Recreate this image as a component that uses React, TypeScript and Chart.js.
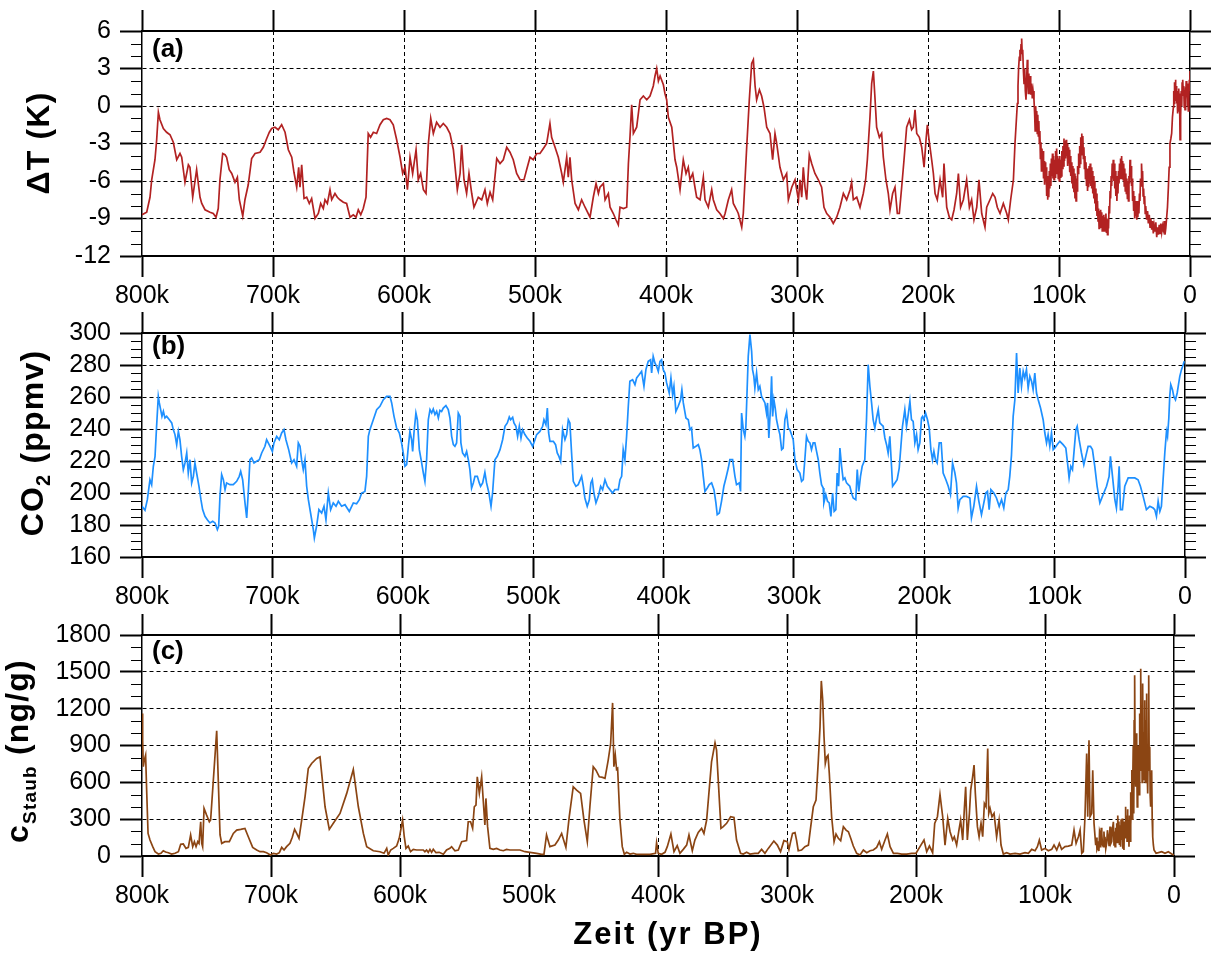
import React, { useEffect, useRef } from 'react';
import { Chart, registerables } from 'chart.js';

Chart.register(...registerables);

// ---------- axis ticks ----------
const ageTicks = [800, 700, 600, 500, 400, 300, 200, 100, 0];
const tempTicks = [-12, -9, -6, -3, 0, 3, 6];
const co2Ticks = [160, 180, 200, 220, 240, 260, 280, 300];
const dustTicks = [0, 300, 600, 900, 1200, 1500, 1800];

// ---------- (a) temperature anomaly: [age kyr BP, ΔT K] ----------
const tempRecord: [number, number][] = [
  [800, -8.7], [796.4, -8.5], [793.9, -7.3], [792.6, -5.9], [790.1, -4.3], [788.8, -2.7], [787.5, -0.5], [786.3, -1.1], [783.7, -1.8], [781.2, -2.1],
  [778.6, -2.3], [776.1, -2.9], [773.5, -4.3], [771, -3.8], [769.7, -4.1], [767.2, -6.1], [764.6, -4.7], [763.4, -4.9], [761.3, -7.3], [758.3, -5.1],
  [755.7, -7.3], [754.4, -7.8], [751.9, -8.3], [748.1, -8.5], [745.6, -8.6], [743.5, -8.9], [741.8, -8.2], [740.5, -5.9], [738.4, -3.8], [736.6, -3.9],
  [735.4, -4.1], [733.4, -5.1], [731.5, -5.4], [729, -6.1], [727.2, -5.7], [725.7, -7.5], [723.1, -8.8], [721.4, -7.5], [718.9, -6.3], [716.3, -4.2],
  [713.7, -3.8], [709.9, -3.7], [707.4, -3.3], [704.8, -2.6], [702.8, -2.1], [701, -1.8], [698.5, -1.7], [696, -1.9], [693.4, -1.5], [690.8, -2.1],
  [688.3, -3.5], [685.7, -4.1], [684, -5.3], [681.9, -6.5], [680.4, -4.9], [679.4, -6.5], [678.1, -4.7], [676.3, -7.4], [674.3, -7.3], [672.3, -7.8],
  [670.5, -7.4], [667.9, -9.0], [665.4, -8.6], [663.6, -7.8], [661.6, -8.2], [660.3, -7.5], [658.5, -7.8], [656.5, -6.7], [655.2, -7.5], [652.7, -7.0],
  [650.9, -7.3], [648.9, -7.5], [646.3, -7.7], [643.8, -7.8], [641.2, -8.9], [638.7, -8.7], [636.6, -8.9], [634.9, -8.3], [633, -8.7], [631.1, -8.2],
  [629, -7.3], [627.3, -2.2], [625.5, -2.5], [623.4, -2.1], [620.9, -2.2], [618.3, -1.5], [615.8, -1.1], [613.2, -1.0], [610.7, -1.1], [608.2, -1.5],
  [605.6, -2.7], [603, -4.1], [601, -5.4], [599.2, -4.9], [597.4, -6.7], [595.4, -4.1], [593.4, -5.4], [590.8, -3.5], [589.1, -5.9], [587.3, -5.4],
  [585.2, -6.7], [583.2, -7.0], [581.4, -3.0], [579.6, -1.0], [577.6, -2.2], [575.1, -1.3], [572.5, -1.7], [570, -1.4], [567.4, -1.7], [564.9, -2.2],
  [562.3, -3.5], [559.3, -6.7], [557.2, -5.4], [556, -3.1], [554.2, -5.9], [552.2, -7.0], [550.4, -5.4], [548.3, -7.0], [546.6, -8.1], [543.3, -7.3],
  [540.7, -7.5], [538.2, -6.7], [536.4, -7.8], [534.3, -6.9], [532.3, -7.5], [529.2, -4.2], [526.7, -4.6], [524.2, -4.3], [521.6, -3.3], [519.1, -3.7],
  [516.6, -4.3], [514, -5.4], [511.4, -5.9], [508.4, -5.9], [506.4, -5.1], [503.8, -4.1], [501.3, -4.3], [498.7, -3.8], [496.2, -3.8], [493.6, -3.4],
  [491.1, -3.0], [488.6, -1.4], [487.3, -2.5], [484.7, -3.3], [482.2, -4.1], [479.6, -5.4], [478.4, -6.1], [475.8, -4.1], [474.6, -5.7], [473.3, -4.1],
  [472, -5.9], [469.4, -7.8], [466.9, -8.3], [464.4, -7.5], [461.8, -8.1], [458, -8.9], [455.5, -7.3], [453.4, -6.2], [451.6, -7.0], [450.4, -6.5],
  [447.8, -6.2], [446.5, -7.5], [444, -7.0], [442.7, -8.1], [440.2, -8.6], [438.2, -9.1], [436.4, -9.5], [435.1, -8.1], [432.5, -8.2], [430, -8.1],
  [428.7, -4.6], [427.5, -2.5], [426.2, 0.1], [424.9, -2.2], [422.4, -1.7], [419.8, 0.5], [417.3, 0.8], [414.7, 0.5], [412.2, 0.8], [409.7, 1.6],
  [408.4, 2.4], [407.1, 3.0], [405.8, 2.0], [404.5, 2.4], [402, 1.7], [400.8, 1.0], [399.5, 0.5], [398.2, -0.9], [395.6, -1.7], [393.1, -4.3],
  [391.8, -4.9], [389.3, -6.7], [386.8, -4.3], [384.7, -5.4], [383, -4.9], [381.7, -5.9], [379.6, -5.4], [377.9, -6.5], [376.6, -7.3], [374, -7.5],
  [371.5, -5.7], [370.2, -7.5], [367.7, -8.1], [365.1, -6.7], [363.9, -7.5], [361.3, -8.3], [358.8, -8.6], [356.2, -9.0], [354.9, -8.6], [352.4, -7.5],
  [349.9, -6.7], [348.6, -7.8], [346.1, -8.3], [344.8, -8.6], [342.2, -9.7], [341, -8.6], [338.4, -3.3], [336.4, 0.5], [334.6, 3.4], [333.3, 3.7],
  [332, 1.6], [330.8, 0.5], [328.7, 1.3], [327, 0.8], [325.2, -0.1], [323.1, -1.7], [320.6, -2.2], [318.6, -4.3], [316.8, -2.2], [315.5, -3.0],
  [313, -4.9], [310.4, -5.9], [307.9, -5.4], [306.6, -7.5], [304, -6.5], [301.5, -5.9], [298.9, -7.5], [297.7, -5.9], [296.4, -7.3], [295.2, -4.9],
  [293.9, -6.5], [292.6, -7.5], [290.6, -3.9], [288.8, -4.6], [286.3, -5.4], [283.7, -5.9], [281.2, -6.5], [279.4, -8.1], [277.3, -8.6], [274.8, -8.9],
  [272.3, -9.4], [269.7, -8.9], [267.2, -8.1], [264.6, -7.0], [262.1, -7.5], [259.5, -6.7], [258.3, -6.1], [257, -7.5], [254.4, -7.3], [251.9, -8.1],
  [249.4, -7.0], [247.6, -5.9], [246.3, -4.3], [244.3, -0.9], [243, 1.8], [241.7, 2.8], [240.4, 0.5], [239.2, -1.7], [237.1, -2.5], [235.4, -2.2],
  [234.1, -4.1], [232.1, -5.9], [230.3, -7.0], [229, -8.3], [227, -7.0], [225.2, -6.5], [223.4, -8.6], [221.9, -8.6], [220.1, -6.5], [218.3, -4.3],
  [216.3, -1.7], [214.2, -1.1], [212.5, -1.9], [211.2, -1.7], [209.9, -0.3], [208.6, -2.2], [206.6, -2.5], [204.8, -3.3], [203, -4.9], [201.5, -2.7],
  [200.5, -1.5], [199.2, -2.7], [197.2, -4.3], [195.9, -5.4], [194.6, -7.0], [192.9, -7.5], [190.8, -5.9], [188.8, -7.3], [187.8, -4.6], [185.7, -8.1],
  [183.7, -8.9], [181.9, -9.1], [180.1, -8.3], [178.1, -7.0], [176.8, -5.4], [175.1, -8.1], [173, -7.5], [170.5, -5.9], [168.4, -8.1], [166.7, -7.5],
  [164.9, -9.1], [162.8, -8.1], [161.1, -5.9], [159, -8.6], [156.5, -9.7], [155.2, -8.1], [152.7, -7.5], [150.6, -7.0], [148.8, -7.3], [147.1, -8.1],
  [145, -8.6], [142.5, -7.8], [139.9, -8.6], [138.7, -9.1], [136.9, -7.5], [134.8, -5.9], [133.6, -3.0], [131.8, 0.2], [131.3, 1.6], [130.8, 3.1],
  [130.3, 3.9], [129.8, 4.5], [129.4, 3.6], [129, 4.9], [128.5, 5.4], [128.1, 4.2], [127.7, 4.5], [127.2, 2.9], [126.7, 1.8], [126.2, 3.0],
  [125.7, 1.2], [125.2, 0.5], [124.7, 2.1], [124.2, 3.7], [123.8, 2.2], [123.4, 1.0], [123, 2.6], [122.6, 1.0], [122.1, 2.4], [121.6, 0.9],
  [120.9, 1.8], [120.4, 0.6], [119.8, 1.2], [119.1, 0.5], [118.6, -0.6], [118.2, -2.0], [117.8, 0.0], [117.4, -1.2], [117.0, -0.4], [116.6, -2.2],
  [116.2, -0.7], [115.8, -2.4], [115.4, -1.2], [115.0, -3.0], [114.6, -2.0], [114.2, -4.2], [113.8, -2.9], [113.4, -5.2], [113.0, -3.4], [112.6, -4.9],
  [112.2, -3.6], [111.8, -5.8], [111.4, -4.4], [111.0, -6.3], [110.6, -4.5], [110.2, -6.0], [109.8, -4.9], [109.4, -7.2], [109.0, -5.6], [108.6, -7.5],
  [108.2, -6.0], [107.8, -7.3], [107.4, -5.2], [107.0, -6.6], [106.6, -4.6], [106.2, -6.4], [105.8, -4.2], [105.4, -5.6], [105.0, -3.8], [104.6, -5.8],
  [104.2, -4.0], [103.8, -5.9], [103.4, -4.3], [103.0, -5.7], [102.6, -3.6], [102.2, -5.2], [101.8, -3.4], [101.4, -5.4], [101.0, -4.0], [100.6, -5.8],
  [100.2, -4.2], [99.8, -6.0], [99.4, -4.0], [99.0, -5.7], [98.6, -4.3], [98.2, -5.6], [97.8, -3.6], [97.4, -5.0], [97.0, -3.2], [96.6, -4.8],
  [96.2, -2.6], [95.8, -4.4], [95.4, -2.8], [95.0, -4.2], [94.6, -2.7], [94.2, -4.0], [93.8, -3.0], [93.4, -4.8], [93.0, -3.3], [92.6, -4.6],
  [92.2, -3.5], [91.8, -5.3], [91.4, -4.0], [91.0, -5.6], [90.6, -4.5], [90.2, -6.2], [89.8, -4.8], [89.4, -6.6], [89.0, -5.0], [88.6, -6.9],
  [88.2, -5.4], [87.8, -7.4], [87.4, -5.6], [87.0, -7.6], [86.6, -5.8], [86.2, -6.8], [85.8, -4.8], [85.4, -5.4], [85.0, -3.8], [84.6, -4.9],
  [84.2, -3.2], [83.8, -4.6], [83.4, -2.5], [83.0, -3.9], [82.6, -2.2], [82.2, -3.6], [81.8, -2.4], [81.4, -4.2], [81.0, -3.3], [80.6, -5.0],
  [80.2, -4.0], [79.8, -5.8], [79.4, -4.5], [79.0, -6.4], [78.6, -5.0], [78.2, -6.8], [77.8, -5.4], [77.4, -6.5], [77.0, -4.8], [76.6, -6.2],
  [76.2, -4.6], [75.8, -6.4], [75.4, -4.9], [75.0, -6.6], [74.6, -5.2], [74.2, -7.0], [73.8, -5.6], [73.4, -7.4], [73.0, -6.0], [72.6, -7.8],
  [72.2, -6.6], [71.8, -8.4], [71.4, -7.0], [71.0, -8.8], [70.6, -7.6], [70.2, -9.2], [69.8, -8.2], [69.4, -9.8], [69.0, -8.4], [68.6, -9.6],
  [68.2, -8.3], [67.8, -9.7], [67.4, -8.5], [67.0, -10.0], [66.6, -8.8], [66.2, -9.9], [65.8, -8.7], [65.4, -10.0], [65.0, -8.9], [64.6, -9.9],
  [64.2, -8.6], [63.8, -10.1], [63.4, -9.0], [63.0, -10.3], [62.6, -9.2], [62.2, -9.8], [61.8, -8.0], [61.4, -8.6], [61.0, -6.8], [60.6, -7.4],
  [60.2, -5.6], [59.8, -6.4], [59.4, -4.6], [59.0, -5.8], [58.6, -4.3], [58.2, -6.0], [57.8, -4.6], [57.4, -6.6], [57.0, -5.2], [56.6, -7.2],
  [56.2, -5.6], [55.8, -7.6], [55.4, -6.0], [55.0, -7.0], [54.6, -5.2], [54.2, -6.2], [53.8, -4.6], [53.4, -5.8], [53.0, -4.2], [52.6, -5.6],
  [52.2, -4.0], [51.8, -5.8], [51.4, -4.4], [51.0, -5.9], [50.6, -4.6], [50.2, -6.4], [49.8, -5.0], [49.4, -6.8], [49.0, -5.4], [48.6, -7.0],
  [48.2, -5.8], [47.8, -7.4], [47.4, -6.0], [47.0, -7.6], [46.6, -5.6], [46.2, -6.2], [45.8, -4.3], [45.4, -5.6], [45.0, -4.8], [44.6, -6.4],
  [44.2, -5.8], [43.8, -7.6], [43.4, -6.8], [43.0, -8.4], [42.6, -7.2], [42.2, -9.0], [41.8, -7.8], [41.4, -8.8], [41.0, -7.6], [40.6, -9.1],
  [40.2, -7.8], [39.8, -8.9], [39.4, -7.6], [39.0, -8.6], [38.6, -7.0], [38.2, -7.6], [37.8, -5.8], [37.4, -6.4], [37.0, -4.6], [36.6, -5.8],
  [36.2, -5.2], [35.8, -7.2], [35.4, -6.6], [35.0, -7.8], [34.6, -7.2], [34.2, -8.6], [33.8, -8.0], [33.1, -9.1], [32.4, -8.4], [31.8, -9.4],
  [31.1, -8.7], [30.5, -9.7], [29.9, -9.0], [29.2, -9.9], [28.6, -9.2], [28, -10.2], [27.4, -9.5], [26.7, -10.0], [26.1, -9.3], [25.4, -10.5],
  [24.8, -9.7], [24.2, -10.3], [23.5, -9.5], [22.9, -10.2], [22.3, -9.4], [21.6, -10.1], [21, -9.6], [20.4, -9.9], [19.7, -9.2], [19.1, -10.3],
  [18.5, -9.8], [17.8, -8.9], [17.2, -8.1], [16.5, -6.5], [15.9, -4.9], [15.3, -3.0], [14.6, -2.6], [14, -2.2], [13.4, -0.9], [12.7, -0.1],
  [12.4, 1.2], [12.1, 0.2], [11.8, 1.9], [11.4, 0.8], [11.1, 2.1], [10.8, 0.4], [10.5, 1.6], [10.2, 0.2], [9.9, 1.2], [9.6, -0.6],
  [9.3, 0.8], [8.9, -0.4], [8.6, 1.4], [8.3, 0.4], [8.0, 1.0], [7.6, -2.7], [7.3, 0.2], [7.0, -0.8], [6.7, 1.2], [6.3, 0.0],
  [6.0, 1.9], [5.7, 0.8], [5.4, 2.1], [5.1, 0.9], [4.8, 1.6], [4.4, -0.1], [4.1, 1.3], [3.8, -0.3], [3.5, 1.5], [3.2, 0.5],
  [2.9, 2.0], [2.5, 0.7], [2.2, 1.8], [1.9, 0.0], [1.6, 1.2], [1.3, -0.4], [1.0, 1.5], [0.8, 0.6], [0.5, 2.1], [0.2, 1.2],
  [0, 2.8],
];

// ---------- (b) CO2: [age kyr BP, ppmv] ----------
const co2Record: [number, number][] = [
  [800, 191.7], [797.7, 189.2], [795.9, 195.8], [793.9, 208.3], [792.6, 205.2], [791.3, 216.7], [790, 222.9], [788.8, 241.7], [787.5, 260.4], [786.7, 256.3],
  [785.7, 252.1], [784.7, 247.9], [783.6, 251], [782.4, 246.9], [781.1, 247.9], [779, 245.8], [777.2, 243.8], [776, 239.6], [774.7, 236.5], [773.4, 230.2],
  [772.1, 238.5], [770.9, 233.3], [769.6, 222.9], [768.3, 214.6], [767, 218.8], [765.7, 225], [764.5, 212.5], [763.2, 220.8], [761.9, 206.3], [760.6, 210.4],
  [759.4, 218.8], [758.1, 212.5], [756.3, 204.2], [754.8, 195.8], [753.5, 189.6], [751.7, 185.4], [749.9, 183.3], [747.9, 181.3], [745.8, 182.3], [744, 181.3],
  [742.2, 177.1], [741.2, 179.2], [740.2, 197.9], [738.9, 211.5], [737.6, 208.3], [736.3, 202.1], [735.1, 206.3], [732.5, 205.2], [730, 205.2], [727.4, 207.3],
  [725.4, 210.4], [724.3, 213.5], [722.8, 208.3], [721, 193.8], [719.7, 184.4], [718.5, 200], [717.2, 220.8], [715.9, 221.9], [714.1, 218.8], [712.1, 219.8],
  [710, 220.8], [708.2, 225], [705.7, 229.2], [704.4, 233.3], [701.8, 229.2], [700, 226], [698.8, 231.3], [696.7, 235.4], [694.7, 233.3], [692.9, 237.5],
  [691.1, 239.6], [689.6, 233.3], [687.5, 227.1], [685.2, 218.8], [683.4, 220.8], [681.4, 216.7], [680.1, 231.3], [678.8, 229.2], [677.6, 220.8], [676.3, 214.6],
  [675, 220.8], [673.7, 204.2], [672.4, 195.8], [670.7, 187.5], [668.6, 177.1], [667.8, 171.9], [666.1, 179.2], [664.3, 189.6], [662.2, 187.5], [660.4, 191.7],
  [658.9, 183.3], [657.1, 200], [655.3, 189.6], [653.3, 193.8], [651.2, 191.7], [649.4, 194.8], [646.9, 191.7], [644.3, 192.7], [641, 188.5], [637.9, 193.8],
  [635.4, 193.3], [633.3, 195.8], [631.5, 200], [629, 201], [627.7, 210.4], [626.4, 235.4], [625.2, 239.6], [622.6, 245.8], [620, 252.1], [617.5, 254.2],
  [614.9, 258.3], [612.4, 260.4], [609.8, 260.4], [608.5, 256.3], [606.7, 247.9], [604.7, 240.6], [602.6, 237.5], [600.9, 231.3], [599.6, 225], [598.3, 216.7],
  [597, 217.7], [595.7, 229.2], [594.5, 238.5], [593.2, 233.3], [592.4, 226], [591.4, 237.5], [589.9, 250], [588.8, 245.8], [587.3, 227.1], [585.5, 218.8],
  [584.2, 212.5], [583, 207.3], [581.7, 220.8], [580.4, 245.8], [579.1, 252.1], [577.8, 250], [576.6, 252.5], [575.3, 249], [574, 251], [572.7, 246.9],
  [571.5, 251.7], [570.2, 251], [568.9, 253.1], [566.9, 254.6], [565.1, 252.1], [563.8, 246.9], [562.5, 235.4], [561.2, 230.2], [560, 229.2], [558.7, 231.3],
  [557.4, 250], [556.1, 247.9], [555.4, 231.3], [554.1, 225], [552.3, 222.9], [551, 226], [549.7, 220.8], [548.5, 214.6], [547.2, 203.1], [545.9, 206.3],
  [544.6, 210.4], [542.8, 210.4], [541.3, 206.3], [540.3, 204.2], [538.7, 206.3], [537, 212.9], [535.7, 206.3], [533.9, 200], [532.3, 191.7], [531.1, 200],
  [529.3, 220.8], [527.5, 222.9], [525.4, 227.1], [523.4, 233.3], [521.6, 241.7], [519.8, 243.8], [518.3, 247.5], [517.3, 245.8], [515.7, 247.3], [514.7, 243.8],
  [513.2, 241.7], [511.9, 235.4], [510.6, 241.7], [509.3, 234.4], [508.1, 239.6], [506.3, 236.5], [504.5, 234.4], [502.4, 232.3], [500.4, 229.2], [498.6, 233.3],
  [497.3, 236.5], [494.8, 238.5], [492.7, 241.7], [491.7, 245.8], [490.2, 242.7], [489.1, 253.1], [488.1, 237.5], [487.1, 232.3], [484.5, 232.3], [482.8, 230.2],
  [481.5, 225], [480.2, 222.9], [478.9, 219.8], [477.4, 239.6], [475.6, 233.3], [474.3, 236.5], [473, 245.8], [471.8, 243.8], [470.5, 225], [469.2, 207.3],
  [467.2, 204.2], [465.4, 205.2], [462.8, 210.4], [461.5, 204.2], [460.3, 196.9], [458.5, 191.7], [456.9, 195.8], [455.7, 206.3], [454.6, 208.3], [453.4, 200],
  [451.8, 193.8], [450, 197.9], [448.2, 204.2], [446.7, 202.1], [444.9, 208.3], [443.1, 204.2], [441.1, 202.1], [439, 200], [437.3, 202.1], [434.7, 202.1],
  [433.4, 208.3], [432.1, 210.4], [430.9, 227.1], [429.6, 220.8], [428.3, 235.4], [427, 254.2], [425.8, 269.8], [423.7, 270.8], [421.9, 267.7], [420.6, 271.9],
  [418.6, 274], [416.8, 276], [415, 266.7], [413.5, 277.1], [411.7, 282.3], [409.9, 283.3], [409.1, 275], [407.9, 285.4], [406.6, 281.3], [405.3, 279.2],
  [404, 276], [402.7, 282.3], [401.5, 283.3], [400.2, 277.1], [398.9, 275], [397.6, 268.8], [395.6, 262.5], [394.3, 271.9], [393, 261.5], [392, 266.7],
  [390.5, 251], [388.7, 254.2], [386.9, 258.3], [385.9, 264.6], [384.8, 256.3], [382.8, 246.9], [381, 245.8], [379.7, 239.6], [378.5, 240.6], [377.2, 228.1],
  [375.1, 229.2], [373.3, 230.2], [372.1, 227.1], [370.8, 220.8], [369.5, 210.4], [368.2, 201], [366.4, 203.1], [364.9, 205.2], [363.1, 206.3], [361.3, 202.1],
  [359.8, 193.8], [358.8, 186.5], [357.2, 187.5], [355.5, 194.8], [353.7, 204.2], [352.1, 209.4], [350.3, 215.6], [349.1, 220.8], [347, 220.8], [345.2, 210.4],
  [344, 205.2], [341.9, 206.3], [340.9, 201], [340.1, 250], [338.8, 239.6], [337.6, 235.4], [336.8, 241.7], [335, 285.4], [333.7, 299], [332.4, 288.5],
  [331.7, 277.1], [330.7, 272.9], [329.9, 265.6], [328.6, 275], [327.3, 264.6], [326.1, 266.7], [324.8, 260.4], [323.5, 258.3], [322.2, 256.3], [321, 250],
  [320.2, 256.3], [319.2, 234.4], [317.9, 254.2], [317.1, 272.9], [316.3, 247.9], [315.3, 258.3], [314.3, 253.1], [313.3, 245.8], [312, 240.6], [310.7, 236.5],
  [309.4, 227.1], [308.2, 228.1], [306.9, 245.8], [305.6, 250.4], [304.3, 240.6], [303.1, 239.6], [301.8, 236.5], [300.5, 233.3], [299.2, 220.8], [297.4, 214.6],
  [295.4, 212.5], [294.1, 207.3], [292.8, 208.3], [291.6, 220.8], [290.3, 235.4], [289, 232.3], [287.7, 231.3], [286.5, 227.1], [285.2, 231.3], [283.9, 231.3],
  [282.6, 226], [281.3, 220.8], [280.1, 212.5], [278.8, 205.2], [277.5, 203.1], [277, 193.8], [275.5, 199], [274.2, 194.8], [272.9, 193.8], [271.6, 185.4],
  [270.3, 200], [269.1, 188.5], [267.8, 189.6], [266.8, 212.5], [265.7, 204.2], [264.7, 228.1], [263.4, 216.7], [262.2, 208.3], [260.9, 209.4], [259.6, 206.3],
  [258.3, 205.2], [257.1, 204.2], [255.8, 200], [254.5, 196.9], [252.5, 195.8], [251.4, 214.6], [250.2, 201], [248.9, 210.4], [247.6, 216.7], [245.6, 220.8],
  [244.3, 245.8], [243, 280.2], [241.7, 266.7], [240.4, 256.3], [239.2, 245.8], [237.9, 240.6], [236.6, 246.9], [235.3, 252.1], [234.1, 243.8], [232.8, 242.7],
  [231.5, 241.7], [230.2, 234.4], [228.9, 230.2], [227.7, 225], [226.4, 235.4], [225.1, 216.7], [224.3, 204.2], [222.5, 206.3], [220.8, 208.3], [219.2, 215.6],
  [217.9, 229.2], [216.7, 241.7], [214.9, 252.1], [213.6, 241.7], [212.3, 249], [211, 257.3], [209.8, 245.8], [208.5, 244.8], [207.2, 231.3], [205.9, 236.5],
  [204.7, 227.1], [203.4, 231.3], [202.1, 246.9], [201.3, 247.9], [200.3, 245.8], [199, 250], [197.5, 245.8], [196.2, 240.6], [194.9, 227.1], [193.7, 220.8],
  [192.6, 226], [191.4, 220.8], [190.1, 218.8], [188.5, 231.3], [187, 231.3], [185.5, 212.5], [183.4, 208.3], [181.6, 204.2], [179.9, 199], [178.3, 218.8],
  [176.5, 212.5], [175.3, 206.3], [174, 190.6], [172.7, 195.8], [170.1, 197.9], [167.6, 197.9], [165, 196.9], [163.8, 184.4], [162, 191.7], [159.9, 204.2],
  [158.1, 194.8], [156.1, 186.5], [154.3, 193.8], [152.8, 200], [151.5, 201], [150.2, 189.6], [148.9, 202.1], [146.6, 200], [144.6, 196.9], [142.5, 191.7],
  [140.7, 195.8], [139, 190.6], [137.4, 200], [135.6, 202.1], [134.4, 210.4], [133.1, 223.5], [131.8, 247.9], [130.5, 258.3], [129.2, 287.5], [128, 262.5],
  [126.7, 278.1], [125.4, 266.7], [124.1, 276], [122.9, 271.9], [121.6, 277.1], [120.3, 265.6], [119, 272.9], [117.7, 269.8], [116.5, 264.6], [115.2, 275],
  [113.9, 262.5], [112.6, 258.3], [110.8, 253.1], [108.8, 245.8], [107.5, 237.5], [106.2, 231.3], [105, 236.5], [103.7, 229.2], [102.4, 237.5], [101.1, 227.1],
  [99.8, 228.1], [98.1, 230.2], [96, 232.3], [93.5, 230.2], [91.4, 228.1], [90.1, 218.8], [88.9, 209.4], [87.6, 216.7], [86.3, 214.6], [85, 227.1],
  [83.7, 239.6], [82.7, 241.7], [81.2, 233.3], [79.4, 225], [77.6, 217.7], [76.1, 222.9], [74.3, 229.2], [72.5, 229.2], [71, 227.1], [69.2, 216.7],
  [67.4, 204.2], [65.3, 193.8], [62.8, 199], [60.2, 204.2], [58.2, 210.4], [57.2, 222.9], [55.6, 210.4], [53.8, 195.8], [52.6, 190.6], [51.3, 204.2],
  [50.5, 216.7], [49.5, 189.6], [48, 189.6], [46.2, 204.2], [43.6, 209.4], [41.1, 209.4], [38.5, 209.4], [36, 208.3], [34.2, 204.2], [32.1, 197.9],
  [29.6, 189.6], [27, 191.7], [24.4, 190.6], [23.2, 189.6], [21.9, 185.4], [20.6, 194.8], [19.3, 188.5], [18.1, 191.7], [16.8, 208.3], [15.5, 225],
  [14.2, 238.5], [13.4, 235.4], [12.4, 246.9], [11.7, 260.4], [10.9, 267.7], [9.6, 264.6], [8.6, 260.4], [7.3, 258.3], [6, 262.5], [5, 267.7],
  [4, 272.9], [2.7, 277.1], [1.4, 280.2], [0.6, 282.3],
];

// ---------- (c) dust concentration: [age kyr BP, ng/g] ----------
const dustRecord: [number, number][] = [
  [800, 1160], [799.5, 943], [799, 727], [798.2, 781], [797.2, 821], [796.4, 537], [795.3, 184], [793.8, 130], [791.7, 76], [789.9, 35],
  [787.3, 16], [785.3, 22], [783.5, 43], [781.7, 33], [779.6, 27], [777, 16], [774.4, 22], [771.8, 35], [770, 95], [768, 98],
  [765.9, 62], [764.1, 70], [762.3, 171], [760.7, 76], [759.4, 117], [758.1, 76], [756.8, 117], [755.8, 103], [754.5, 279], [753.7, 103],
  [753, 76], [751.9, 388], [749.9, 333], [747.8, 279], [746.8, 293], [742.1, 1019], [739.5, 171], [738.2, 103], [735.7, 117], [732.3, 117],
  [729.2, 184], [726.6, 211], [723.5, 217], [720.2, 225], [717.6, 157], [714.2, 70], [711.1, 49], [708.5, 35], [705.9, 35], [703.4, 27],
  [700.5, 8], [698.2, 22], [695.6, 16], [693.5, 27], [691.7, 70], [689.9, 49], [687.9, 76], [685.3, 103], [683.5, 152], [681.7, 217],
  [680.1, 184], [678.3, 144], [676.2, 293], [673.6, 483], [671.1, 713], [668.5, 754], [664.6, 794], [662, 808], [658.1, 401], [654.8, 217],
  [651.7, 266], [646.5, 347], [641.3, 510], [636.2, 705], [632.3, 401], [628.4, 184], [625.8, 76], [620.7, 43], [615.5, 35], [612.4, 22],
  [610.3, 62], [609.1, 8], [607.2, 49], [605.2, 62], [602.6, 81], [600.6, 144], [598, 293], [596.7, 157], [595.4, 62], [593.6, 81],
  [591.8, 35], [589.7, 54], [587.1, 49], [584.5, 49], [582, 49], [580.7, 35], [579.4, 49], [578.1, 30], [576.8, 54], [575.5, 30],
  [574.2, 54], [572.1, 27], [569.6, 30], [566.4, 14], [563.9, 49], [561.3, 62], [560, 76], [557.4, 43], [554.8, 49], [552.2, 117],
  [548.4, 125], [547.1, 279], [545.3, 279], [543.7, 225], [542.4, 401], [541.1, 415], [540.1, 645], [538.5, 510], [536.7, 645], [535.4, 442],
  [534.2, 252], [533.4, 469], [532.1, 239], [530.3, 62], [527.7, 54], [525.1, 62], [522.5, 49], [519.9, 43], [517.4, 54], [514.8, 49],
  [510.9, 49], [507, 49], [503.1, 35], [499.3, 30], [494.1, 22], [490.2, 14], [488.4, 14], [486.4, 171], [483.8, 76], [479.9, 89],
  [477.3, 130], [474.7, 184], [471.4, 70], [468.8, 320], [465.7, 564], [463.1, 537], [460, 510], [457.4, 293], [454.8, 117], [452.8, 401],
  [450.2, 727], [448.1, 699], [445.5, 645], [443, 640], [441.1, 632], [438.6, 781], [436.7, 916], [435.2, 1247], [434.2, 727], [433.1, 821],
  [432.1, 705], [431.3, 713], [429.5, 293], [427.7, 76], [426.1, 14], [424.3, 30], [421.7, 16], [419.2, 22], [416.6, 14], [411.4, 14],
  [406.2, 14], [401.9, 22], [401.1, 108], [399.8, 22], [397.2, 14], [394.6, 30], [392.8, 76], [390, 179], [387.6, 35], [385.1, 84],
  [383, 22], [380.4, 54], [377.8, 89], [376, 171], [373.4, 43], [371.4, 130], [368.8, 192], [366.2, 225], [364.4, 184], [362.3, 293],
  [358.5, 767], [355.8, 922], [354.6, 862], [353.3, 618], [351.2, 225], [349.4, 239], [346.8, 266], [343.7, 320], [341.1, 314], [339.1, 130],
  [336, 22], [333.9, 16], [331.3, 30], [328.7, 16], [324.9, 22], [322.3, 22], [319.7, 54], [317.1, 22], [314.5, 62], [310.2, 122],
  [307.5, 89], [305, 35], [302.4, 125], [299.8, 117], [298.5, 54], [297.2, 117], [295.7, 184], [293.8, 190], [292.6, 130], [291.3, 43],
  [288.7, 49], [286.1, 76], [283.4, 89], [281.6, 239], [279.6, 401], [277.5, 455], [275.7, 781], [274.4, 1052], [273.4, 1426], [272.3, 1269],
  [271.3, 971], [270.3, 754], [269.2, 808], [268.2, 821], [267.2, 672], [265.4, 320], [263.5, 117], [262, 179], [260.2, 144], [258.4, 125],
  [256.3, 239], [254.2, 211], [252.4, 198], [250.6, 144], [248.6, 81], [246, 22], [243.4, 8], [240.8, 49], [238.2, 27], [235.6, 43],
  [233.1, 49], [230.5, 70], [228.4, 117], [226.6, 54], [224, 130], [222.2, 179], [220.1, 76], [217.5, 22], [214.4, 22], [211.1, 16],
  [207.2, 16], [203.3, 22], [200, 22], [196.9, 76], [193.8, 130], [191.7, 35], [189.6, 81], [187.1, 27], [185.5, 266], [183.4, 320],
  [181.4, 502], [179.3, 320], [177.5, 89], [175.4, 306], [173.6, 198], [171.6, 130], [170.3, 157], [168.5, 89], [166.9, 198], [165.4, 293],
  [163.8, 130], [162.5, 388], [161.5, 564], [160.2, 130], [158.6, 347], [157.6, 537], [156.1, 645], [155, 740], [154, 510], [152.4, 239],
  [151.1, 157], [149.6, 266], [148.3, 157], [147, 428], [145.7, 401], [144.4, 876], [143.6, 347], [142.6, 388], [141.1, 320], [139.5, 347],
  [137.5, 157], [135.6, 293], [134.1, 89], [132.3, 16], [129.7, 27], [127.1, 16], [123.2, 22], [119.4, 16], [115.5, 27], [112.9, 22],
  [110.3, 54], [107.7, 43], [105.9, 76], [104.4, 130], [102.6, 49], [100, 62], [97.4, 43], [94.8, 54], [93, 89], [90.9, 49],
  [88.9, 103], [87.1, 54], [84.5, 76], [81.9, 81], [79.3, 89], [77.5, 211], [75.9, 103], [74.1, 157], [72.8, 211], [71.5, 22],
  [70.3, 35], [69, 320], [67.7, 835], [66.9, 320], [65.9, 943], [65.1, 320], [63.8, 347], [63, 699], [62, 266], [60.7, 89],
  [60.2, 150], [59.7, 50], [59.2, 62], [58.7, 120], [58.2, 40], [57.7, 200], [57.3, 184], [56.8, 70], [56.4, 230], [56, 184],
  [55.4, 90], [54.8, 76], [54.3, 200], [53.9, 110], [53.5, 157], [52.9, 60], [52.2, 103], [51.6, 210], [50.9, 144], [50.3, 80],
  [49.6, 239], [49, 100], [48.3, 117], [47.7, 220], [47, 279], [46.5, 90], [46, 200], [45.7, 76], [45.2, 230], [44.8, 120],
  [44.4, 266], [44, 110], [43.6, 330], [43.1, 150], [42.7, 280], [42.3, 90], [41.8, 250], [41.4, 76], [41, 300], [40.5, 130],
  [40.1, 306], [39.7, 60], [39.2, 230], [38.8, 49], [38.4, 280], [37.9, 150], [37.5, 401], [37.2, 180], [36.8, 330], [36.4, 120],
  [36.1, 380], [35.7, 157], [35.3, 293], [34.9, 76], [34.5, 330], [34.1, 120], [33.7, 520], [33.4, 250], [33.1, 428], [32.7, 700],
  [32.3, 300], [32, 591], [31.6, 900], [31.2, 347], [30.9, 1100], [30.5, 1472], [30.1, 700], [29.7, 564], [29.3, 1000], [28.9, 808],
  [28.5, 400], [28.1, 455], [27.8, 900], [27.4, 835], [27, 500], [26.6, 1160], [26.2, 700], [25.8, 1526], [25.4, 800], [25, 998],
  [24.7, 600], [24.3, 1404], [23.9, 700], [23.5, 618], [23.1, 1000], [22.7, 1269], [22.3, 600], [21.9, 862], [21.6, 1100], [21.2, 1323],
  [20.8, 700], [20.4, 510], [20, 900], [19.6, 1472], [19.2, 700], [18.8, 889], [18.5, 500], [18.1, 401], [17.7, 600], [17.3, 699],
  [16.9, 300], [16.5, 157], [16, 90], [15.5, 49], [13.9, 22], [12.1, 27], [9.5, 35], [7, 22], [4.4, 35], [1.8, 16],
  [0, 8],
];

// ---------- layout / style ----------
const W = 1211;
const H = 958;
const FONT = "'Liberation Sans', Arial, Helvetica, sans-serif";

type TitlePart = { text: string; size: number; shift?: number };
type Panel = {
  key: string;
  area: { left: number; top: number; right: number; bottom: number };
  record: [number, number][];
  ticks: number[];
  minorStep: number;
  color: string;
  letter: string;
  letterBaseline: number;
  title: TitlePart[];
  titleX: number;
  titleCy: number;
  xTitle?: string;
};

const panels: Panel[] = [
  {
    key: 'a', area: { left: 142, top: 31, right: 1190, bottom: 256 }, record: tempRecord, ticks: tempTicks,
    minorStep: 1, color: '#B22222', letter: '(a)', letterBaseline: 57,
    title: [{ text: 'ΔT (K)', size: 32 }], titleX: 49, titleCy: 143,
  },
  {
    key: 'b', area: { left: 142, top: 333, right: 1185, bottom: 557 }, record: co2Record, ticks: co2Ticks,
    minorStep: 5, color: '#1E90FF', letter: '(b)', letterBaseline: 354,
    title: [{ text: 'CO', size: 32 }, { text: '2', size: 20, shift: 7 }, { text: ' (ppmv)', size: 32 }], titleX: 43, titleCy: 443,
  },
  {
    key: 'c', area: { left: 142, top: 635, right: 1174, bottom: 856 }, record: dustRecord, ticks: dustTicks,
    minorStep: 100, color: '#8B4513', letter: '(c)', letterBaseline: 659,
    title: [{ text: 'c', size: 32 }, { text: 'Staub', size: 19, shift: 8 }, { text: ' (ng/g)', size: 32 }], titleX: 28, titleCy: 751,
    xTitle: 'Zeit (yr BP)',
  },
];

function drawYTitle(ctx: CanvasRenderingContext2D, parts: TitlePart[], baseX: number, cy: number) {
  ctx.save();
  ctx.translate(baseX, cy);
  ctx.rotate(-Math.PI / 2);
  ctx.fillStyle = '#000';
  ctx.textAlign = 'left';
  ctx.textBaseline = 'alphabetic';
  (ctx as any).letterSpacing = '1.2px';
  const widths = parts.map((p) => {
    ctx.font = `bold ${p.size}px ${FONT}`;
    return ctx.measureText(p.text).width;
  });
  const total = widths.reduce((s, w) => s + w, 0);
  let x = -total / 2;
  parts.forEach((p, i) => {
    ctx.font = `bold ${p.size}px ${FONT}`;
    ctx.fillText(p.text, x, p.shift || 0);
    x += widths[i];
  });
  ctx.restore();
}

function makeDecor(p: Panel) {
  const yMin = p.ticks[0];
  const yMax = p.ticks[p.ticks.length - 1];
  return {
    id: 'decor_' + p.key,
    afterDraw(chart: any) {
      const { ctx, chartArea: a } = chart;
      const ys = chart.scales.y;
      ctx.save();
      // minor y ticks (outside, both sides)
      ctx.strokeStyle = '#000';
      ctx.lineWidth = 1;
      ctx.beginPath();
      for (let v = yMin; v <= yMax; v += p.minorStep) {
        if (p.ticks.includes(v)) continue;
        const py = Math.round(ys.getPixelForValue(v)) + 0.5;
        ctx.moveTo(a.left - 11, py);
        ctx.lineTo(a.left, py);
        ctx.moveTo(a.right, py);
        ctx.lineTo(a.right + 11, py);
      }
      ctx.stroke();
      // panel letter
      ctx.fillStyle = '#000';
      ctx.font = `bold 26px ${FONT}`;
      ctx.textAlign = 'left';
      ctx.textBaseline = 'alphabetic';
      ctx.fillText(p.letter, a.left + 10, p.letterBaseline);
      ctx.restore();
      drawYTitle(ctx, p.title, p.titleX, p.titleCy);
      if (p.xTitle) {
        ctx.save();
        ctx.fillStyle = '#000';
        ctx.font = `bold 31px ${FONT}`;
        (ctx as any).letterSpacing = '2px';
        ctx.textAlign = 'center';
        ctx.textBaseline = 'alphabetic';
        ctx.fillText(p.xTitle, 668, 944);
        ctx.restore();
      }
    },
  };
}

function makeConfig(p: Panel): any {
  const yMin = p.ticks[0];
  const yMax = p.ticks[p.ticks.length - 1];
  const tickFont = { family: FONT, size: 25 };
  const clear = 'rgba(0,0,0,0)';
  const xEdge = (c: any) => (c.tick && (c.tick.value === 0 || c.tick.value === 800) ? clear : '#000');
  const yEdge = (c: any) => (c.tick && (c.tick.value === yMin || c.tick.value === yMax) ? clear : '#000');
  const setAge = (s: any) => { s.ticks = ageTicks.map((value) => ({ value })); };
  const setY = (s: any) => { s.ticks = p.ticks.map((value) => ({ value })); };
  return {
    type: 'line',
    data: {
      datasets: [{
        data: p.record.map(([age, v]) => ({ x: age, y: v })),
        borderColor: p.color,
        borderWidth: 1.7,
        pointRadius: 0,
        tension: 0,
        fill: false,
      }],
    },
    options: {
      responsive: false,
      animation: false,
      events: [],
      layout: { padding: 0 },
      plugins: { legend: { display: false }, tooltip: { enabled: false }, title: { display: false } },
      scales: {
        x: {
          type: 'linear', position: 'bottom', display: true, min: 0, max: 800, reverse: true,
          afterBuildTicks: setAge,
          afterFit: (s: any) => { s.height = H - p.area.bottom; },
          ticks: {
            font: tickFont, color: '#000', padding: 4, maxRotation: 0, minRotation: 0, autoSkip: false,
            callback: (v: any) => (Number(v) === 0 ? '0' : `${v}k`),
          },
          grid: { color: xEdge, lineWidth: 1, tickLength: 21, tickWidth: 2, tickColor: '#000', tickBorderDash: [] },
          border: { display: true, color: '#000', width: 2, dash: [4, 3] },
        },
        xTop: {
          type: 'linear', position: 'top', display: true, min: 0, max: 800, reverse: true,
          afterBuildTicks: setAge,
          afterFit: (s: any) => { s.height = p.area.top; },
          ticks: { display: false },
          grid: { drawOnChartArea: false, color: '#000', lineWidth: 1, tickLength: 21, tickWidth: 2, tickColor: '#000', tickBorderDash: [] },
          border: { display: true, color: '#000', width: 2 },
        },
        y: {
          type: 'linear', position: 'left', display: true, min: yMin, max: yMax,
          afterBuildTicks: setY,
          afterFit: (s: any) => { s.width = p.area.left; },
          ticks: { font: tickFont, color: '#000', padding: 9, autoSkip: false, callback: (v: any) => String(v) },
          grid: { color: yEdge, lineWidth: 1, tickLength: 22, tickWidth: 2, tickColor: '#000', tickBorderDash: [] },
          border: { display: true, color: '#000', width: 1.5, dash: [4, 3] },
        },
        yRight: {
          type: 'linear', position: 'right', display: true, min: yMin, max: yMax,
          afterBuildTicks: setY,
          afterFit: (s: any) => { s.width = W - p.area.right; },
          ticks: { display: false },
          grid: { drawOnChartArea: false, color: '#000', lineWidth: 1, tickLength: 21, tickWidth: 2, tickColor: '#000', tickBorderDash: [] },
          border: { display: true, color: '#000', width: 1.5 },
        },
      },
    },
    plugins: [makeDecor(p)],
  };
}

export default function App() {
  const refA = useRef<HTMLCanvasElement>(null);
  const refB = useRef<HTMLCanvasElement>(null);
  const refC = useRef<HTMLCanvasElement>(null);
  const refs = [refA, refB, refC];

  useEffect(() => {
    Chart.defaults.font.family = FONT;
    Chart.defaults.color = '#000';
    const charts = panels.map((p, i) => new Chart(refs[i].current as HTMLCanvasElement, makeConfig(p)));
    return () => charts.forEach((c) => c.destroy());
  }, []);

  return (
    <div style={{ position: 'absolute', left: 0, top: 0, width: W, height: H, background: '#fff' }}>
      {panels.map((p, i) => (
        <canvas
          key={p.key}
          ref={refs[i]}
          width={W}
          height={H}
          style={{ position: 'absolute', left: 0, top: 0, width: W, height: H }}
        />
      ))}
    </div>
  );
}
